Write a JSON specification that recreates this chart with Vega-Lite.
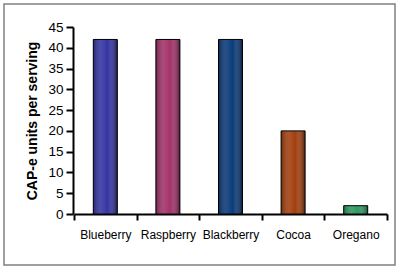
{
  "$schema": "https://vega.github.io/schema/vega-lite/v6.json",
  "width": 391,
  "height": 261,
  "autosize": {"type": "none"},
  "padding": {"left": 4, "top": 4, "right": 5, "bottom": 5},
  "background": "white",
  "config": {
    "view": {"stroke": "#808080", "strokeWidth": 1.5},
    "font": "Liberation Sans",
    "axis": {
      "domainColor": "black", "domainWidth": 2,
      "tickColor": "black", "tickWidth": 2, "tickSize": 6,
      "labelColor": "black", "labelFont": "Liberation Sans", "labelFontSize": 12,
      "titleColor": "black", "titleFont": "Liberation Sans",
      "grid": false
    }
  },
  "data": {
    "values": [
      {"item": "Blueberry", "value": 42},
      {"item": "Raspberry", "value": 42},
      {"item": "Blackberry", "value": 42},
      {"item": "Cocoa", "value": 20},
      {"item": "Oregano", "value": 2}
    ]
  },
  "encoding": {
    "x": {
      "field": "item", "type": "nominal", "sort": null,
      "scale": {"range": [70, 383], "paddingInner": 0, "paddingOuter": 0},
      "axis": {"title": null, "labelAngle": 0, "offset": -51, "tickBand": "extent", "labelPadding": 9}
    },
    "y": {
      "field": "value", "type": "quantitative",
      "scale": {"domain": [0, 45], "range": [210, 23], "nice": false},
      "axis": {"title": "CAP-e units per serving", "values": [0,5,10,15,20,25,30,35,40,45], "offset": -69, "tickSize": 7, "labelPadding": 3, "labelFontSize": 13.5, "titleFontSize": 14, "titleFontWeight": "bold", "titlePadding": 8}
    }
  },
  "layer": [
    {
      "mark": {"type": "bar", "width": 24},
      "encoding": {
        "color": {
          "field": "item", "type": "nominal", "sort": null, "legend": null,
          "scale": {"domain": ["Blueberry", "Raspberry", "Blackberry", "Cocoa", "Oregano"],
                    "range": ["#3535a3", "#a3336a", "#0b3b7a", "#a34010", "#2f9a62"]}
        }
      }
    },
    {
      "mark": {
        "type": "bar", "width": 24, "stroke": "black", "strokeWidth": 1,
        "fill": {
          "gradient": "linear", "x1": 0, "x2": 1, "y1": 0, "y2": 0,
          "stops": [
            {"offset": 0, "color": "rgba(0,0,0,0.3)"},
            {"offset": 0.35, "color": "rgba(255,255,255,0.1)"},
            {"offset": 0.6, "color": "rgba(255,255,255,0.0)"},
            {"offset": 1, "color": "rgba(0,0,0,0.5)"}
          ]
        }
      }
    }
  ]
}
